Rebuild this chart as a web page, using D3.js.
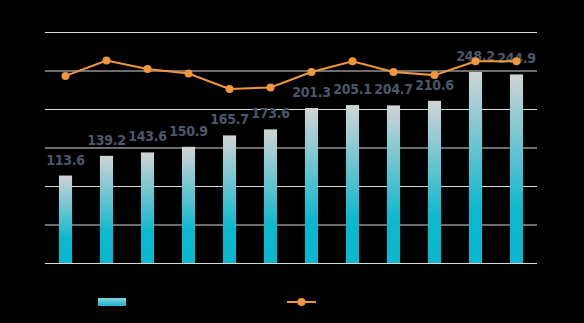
<!DOCTYPE html>
<html><head><meta charset="utf-8">
<script src="https://cdn.jsdelivr.net/npm/d3@7"></script>
<style>
html,body{margin:0;padding:0;background:#000;}
svg{display:block;}
.lbl{font-family:'DejaVu Sans Condensed','DejaVu Sans',sans-serif;font-stretch:condensed;font-weight:bold;font-size:14px;fill:#4b586b;letter-spacing:-0.3px;}
.hid{font-family:'DejaVu Sans',sans-serif;font-size:11px;fill:#000;}
</style></head>
<body>
<svg id="c" width="584" height="323"></svg>
<script>
const categories = ["2012","2013","2014","2015","2016","2017","2018","2019","2020","2021","2022","2023"];
const barValues = [113.6,139.2,143.6,150.9,165.7,173.6,201.3,205.1,204.7,210.6,248.2,244.9];
const lineValues = [24.3,26.3,25.2,24.6,22.6,22.8,24.8,26.2,24.8,24.4,26.2,26.2];
const leftTicks = [0,50,100,150,200,250,300];
const rightTicks = [0,5,10,15,20,25,30];
const seriesNames = ["规模","增速"];

const svg = d3.select("#c");
const x = d3.scaleBand().domain(categories).range([45,537]).paddingInner(0.68).paddingOuter(0.34);
const y = d3.scaleLinear().domain([0,300]).range([263,32]);
const y2 = d3.scaleLinear().domain([0,30]).range([263,32]);

const defs = svg.append("defs");
const g1 = defs.append("linearGradient").attr("id","bg").attr("x1",0).attr("y1",0).attr("x2",0).attr("y2",1);
g1.append("stop").attr("offset","0%").attr("stop-color","#d2d3d4");
g1.append("stop").attr("offset","72%").attr("stop-color","#0db8cf");
g1.append("stop").attr("offset","100%").attr("stop-color","#0bb7ce");
const g2 = defs.append("linearGradient").attr("id","lg").attr("x1",0).attr("y1",0).attr("x2",0).attr("y2",1);
g2.append("stop").attr("offset","0%").attr("stop-color","#7fd3de");
g2.append("stop").attr("offset","100%").attr("stop-color","#1fb3c8");

svg.append("g").selectAll("line").data(leftTicks).join("line")
  .attr("x1",45).attr("x2",537).attr("y1",d=>y(d)+0.5).attr("y2",d=>y(d)+0.5)
  .attr("stroke","#d9d9d9").attr("stroke-width",1);

svg.append("g").selectAll("text").data(leftTicks).join("text").attr("class","hid")
  .attr("x",38).attr("y",d=>y(d)+4).attr("text-anchor","end").text(d=>d);
svg.append("g").selectAll("text").data(rightTicks).join("text").attr("class","hid")
  .attr("x",544).attr("y",d=>y2(d)+4).text(d=>d+"%");
svg.append("g").selectAll("text").data(categories).join("text").attr("class","hid")
  .attr("x",d=>x(d)+x.bandwidth()/2).attr("y",279).attr("text-anchor","middle").text(d=>d);

svg.append("g").selectAll("rect").data(barValues).join("rect")
  .attr("x",(d,i)=>x(categories[i])).attr("width",x.bandwidth())
  .attr("y",d=>y(d)).attr("height",d=>y(0)-y(d)).attr("fill","url(#bg)");

svg.append("g").selectAll("text").data(barValues).join("text").attr("class","lbl")
  .attr("x",(d,i)=>x(categories[i])+x.bandwidth()/2).attr("y",d=>y(d)-11)
  .attr("text-anchor","middle").text(d=>d.toFixed(1));

const line = d3.line().x((d,i)=>x(categories[i])+x.bandwidth()/2).y(d=>y2(d));
svg.append("path").datum(lineValues).attr("d",line).attr("fill","none")
  .attr("stroke","#f0963c").attr("stroke-width",2);
svg.append("g").selectAll("circle").data(lineValues).join("circle")
  .attr("cx",(d,i)=>x(categories[i])+x.bandwidth()/2).attr("cy",d=>y2(d)).attr("r",4)
  .attr("fill","#f0963c");

const lg = svg.append("g");
lg.append("rect").attr("x",98).attr("y",298).attr("width",28).attr("height",8).attr("fill","url(#lg)");
lg.append("text").attr("class","hid").attr("x",132).attr("y",306).text(seriesNames[0]);
lg.append("line").attr("x1",287).attr("x2",316).attr("y1",302).attr("y2",302).attr("stroke","#f0963c").attr("stroke-width",2);
lg.append("circle").attr("cx",301.5).attr("cy",302).attr("r",4).attr("fill","#f0963c");
lg.append("text").attr("class","hid").attr("x",322).attr("y",306).text(seriesNames[1]);
</script>
</body></html>
